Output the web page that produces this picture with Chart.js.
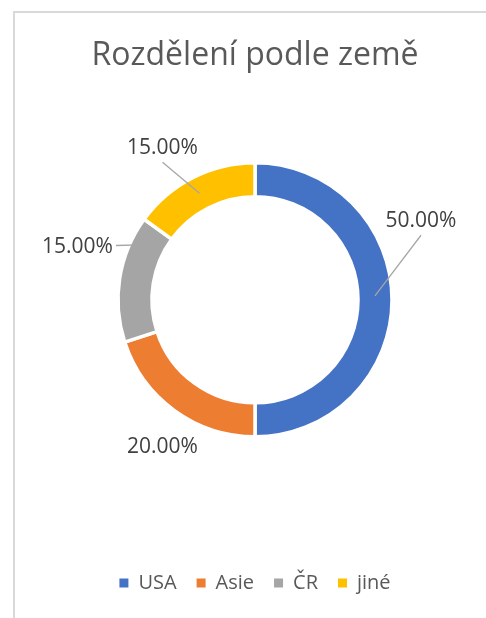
<!DOCTYPE html>
<html lang="cs">
<head>
<meta charset="utf-8">
<title>Rozdělení podle země</title>
<script src="https://cdn.jsdelivr.net/npm/chart.js"></script>
<style>
  html, body { margin: 0; padding: 0; background: #fff; overflow: hidden; }
  #wrap { position: relative; width: 486px; height: 618px; overflow: hidden; }
  #frame { position: absolute; left: 13px; top: 11px; width: 600px; height: 700px; border: 2px solid #d9d9d9; box-sizing: border-box; pointer-events: none; }
  canvas { position: absolute; left: 0; top: 0; }
</style>
</head>
<body>
<div id="wrap">
  <canvas id="donutChart" width="510" height="618"></canvas>
  <div id="frame"></div>
</div>
<script>
const chartTitle = "Rozdělení podle země";
const countries = ["USA", "Asie", "ČR", "jiné"];
const shares = [50, 20, 15, 15];
const sliceColors = ["#4472C4", "#ED7D31", "#A5A5A5", "#FFC000"];

// where each % label sits, relative to the middle of its ring segment
const labelOffsets = [[46, -79], [-22, 50], [-59, -33.5], [-38, -45]];
const leaderSide = ["bottom", null, "right", "bottom"];
const leaderAt = [0.49, 0.5, 0.84, 0.49];

// data labels with leader lines (Excel style)
const pieLabels = {
    id: "pieLabels",
    afterDatasetsDraw(chart) {
        const ctx = chart.ctx;
        const meta = chart.getDatasetMeta(0);
        const total = shares.reduce((a, b) => a + b, 0);
        ctx.save();
        ctx.font = "21px 'Open Sans'";
        ctx.textAlign = "center";
        ctx.textBaseline = "middle";
        meta.data.forEach((arc, i) => {
            const p = arc.getProps(["x", "y", "startAngle", "endAngle", "innerRadius", "outerRadius"], true);
            const r = (p.innerRadius + p.outerRadius) / 2;
            const mid = (p.startAngle + p.endAngle) / 2;
            const lx = p.x + Math.cos(mid) * r + labelOffsets[i][0];
            const ly = p.y + Math.sin(mid) * r + labelOffsets[i][1];
            const text = (shares[i] / total * 100).toFixed(2) + "%";
            const w = ctx.measureText(text).width;

            if (leaderSide[i]) {
                const a = p.startAngle + (p.endAngle - p.startAngle) * leaderAt[i];
                const tx = p.x + Math.cos(a) * r;
                const ty = p.y + Math.sin(a) * r;
                let ex = lx, ey = ly;
                if (leaderSide[i] === "bottom") {
                    ey = ly + 14.5;
                } else {
                    ex = lx + w / 2 + 3;
                    ey = ly - 2;
                }
                ctx.strokeStyle = "#A6A6A6";
                ctx.lineWidth = 1.3;
                ctx.beginPath();
                ctx.moveTo(tx, ty);
                ctx.lineTo(ex, ey);
                ctx.stroke();
            }
            ctx.fillStyle = "#404040";
            ctx.fillText(text, lx, ly);
        });
        ctx.restore();
    }
};

function createChart(canvasId) {
    const canvas = document.getElementById(canvasId);
    if (!canvas) {
        console.error(`Canvas ${canvasId} not found`);
        return;
    }
    new Chart(canvas.getContext("2d"), {
        type: "doughnut",
        data: {
            labels: countries,
            datasets: [{
                data: shares,
                backgroundColor: sliceColors,
                borderColor: "#ffffff",
                borderWidth: 3.5,
                radius: 137,
                cutout: "75.2%",
                hoverOffset: 0
            }]
        },
        options: {
            responsive: false,
            animation: false,
            events: [],
            layout: { padding: { top: 0, bottom: 15, left: 0, right: 0 } },
            plugins: {
                tooltip: { enabled: false },
                title: {
                    display: true,
                    text: chartTitle,
                    color: "#595959",
                    font: { family: "'Open Sans'", size: 32, weight: "normal", lineHeight: 1.2 },
                    padding: { top: 36.5, bottom: 90.1 }
                },
                legend: {
                    position: "bottom",
                    title: { display: true, text: "", padding: { top: 104.1, bottom: 0 } },
                    labels: {
                        color: "#595959",
                        font: { family: "'Open Sans'", size: 20 },
                        boxWidth: 9,
                        boxHeight: 9,
                        padding: 20,
                        generateLabels(chart) {
                            const items = Chart.overrides.doughnut.plugins.legend.labels.generateLabels(chart);
                            items.forEach(item => { item.lineWidth = 0; });
                            return items;
                        }
                    }
                }
            }
        },
        plugins: [pieLabels]
    });
}

createChart("donutChart");
</script>
</body>
</html>
